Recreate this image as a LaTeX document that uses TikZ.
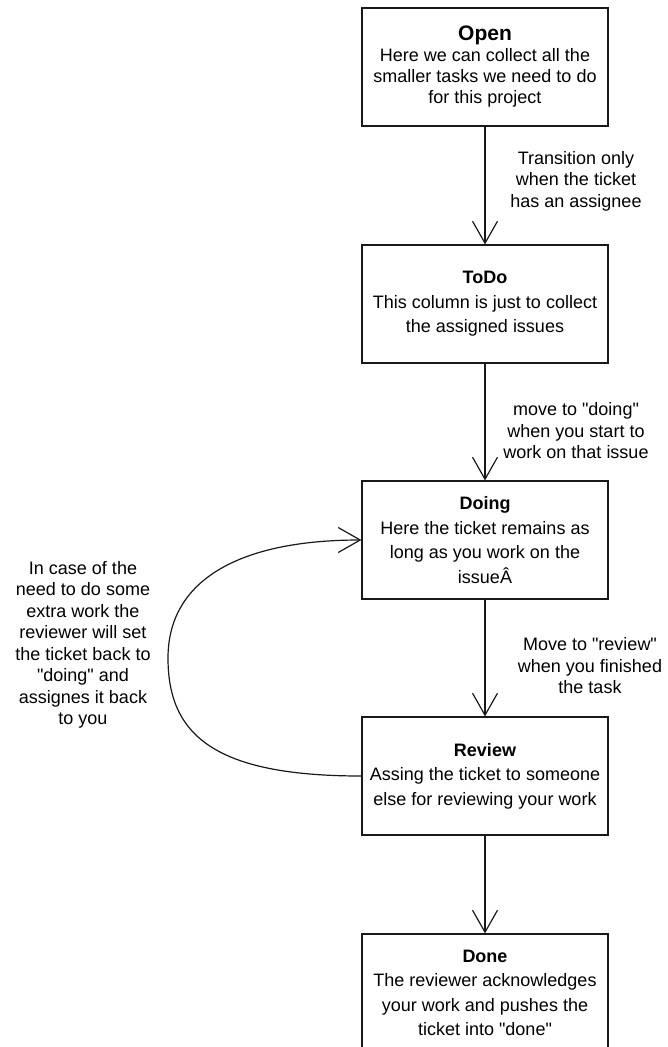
\documentclass[tikz,border=0pt]{standalone}
\usepackage{fontspec}
\setmainfont{Liberation Sans}[Ligatures=TeXOff]
\usetikzlibrary{arrows.meta}

\tikzset{
  stage/.style={draw=black!90, line width=1.2pt, fill=white,
    minimum width=246pt, minimum height=118pt, inner sep=0pt,
    align=center, font=\fontsize{18}{24.5}\selectfont},
  flow/.style={draw=black!90, line width=1.2pt,
    -{Straight Barb[length=22pt,width=25pt,line width=1.2pt]}},
  note/.style={inner sep=0pt, align=center, font=\fontsize{18}{21.5}\selectfont}
}

\begin{document}
\begin{tikzpicture}[x=1pt, y=-1pt]
  \useasboundingbox (0,0) rectangle (667,1047);
  \clip (0,0) rectangle (667,1047);

  % workflow stages
  \node[stage, font=\fontsize{18}{21}\selectfont] (open) at (485,67)
    {{\fontsize{21}{21}\selectfont\bfseries Open}\\Here we can collect all the\\smaller tasks we need to do\\for this project};
  \node[stage] (todo) at (485,304)
    {\bfseries ToDo\\This column is just to collect\\the assigned issues};
  \node[stage] (doing) at (485,540)
    {\bfseries Doing\\Here the ticket remains as\\long as you work on the\\issueÂ};
  \node[stage] (review) at (485,776)
    {\bfseries Review\\Assing the ticket to someone\\else for reviewing your work};
  \node[stage] (done) at (485,993)
    {\bfseries Done\\The reviewer acknowledges\\your work and pushes the\\ticket into "done"};

  % transitions
  \draw[flow] (open) -- (todo);
  \draw[flow] (todo) -- (doing);
  \draw[flow] (doing) -- (review);
  \draw[flow] (review) -- (done);

  \coordinate (loopleft) at (168,658);
  \draw[flow] (review.west) .. controls +(-147,0) and +(0,77) .. (loopleft)
              .. controls +(0,-78) and +(-122,0) .. (doing.west);

  % transition notes
  \node[note] (n1) at (576,181) {Transition only\\when the ticket\\has an assignee};
  \node[note] (n2) at (576,431) {move to "doing"\\when you start to\\work on that issue};
  \node[note] (n3) at (590,666) {Move to "review"\\when you finished\\the task};
  \node[note] (n4) at (83,645) {In case of the\\need to do some\\extra work the\\reviewer will set\\the ticket back to\\"doing" and\\assignes it back\\to you};
\end{tikzpicture}
\end{document}
